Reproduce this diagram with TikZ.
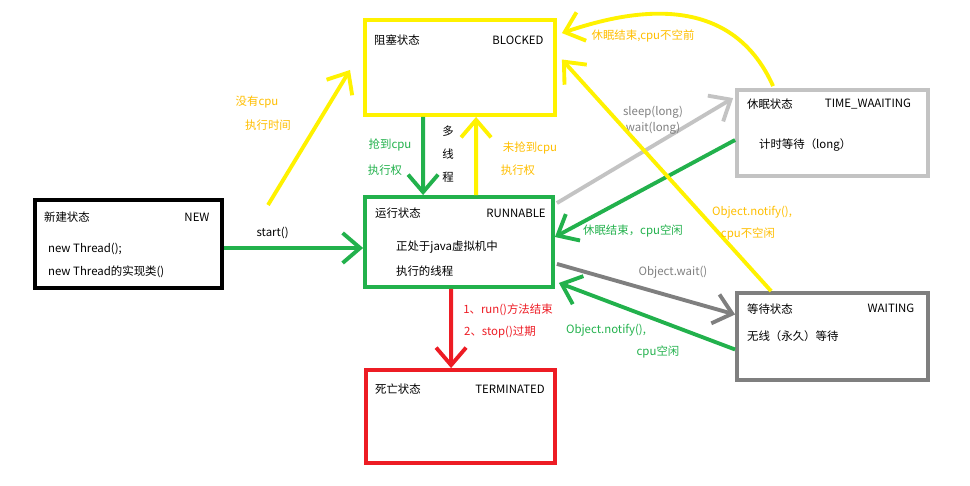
\documentclass[tikz,border=0pt]{standalone}
\usepackage{fontspec}
\setmainfont{Noto Sans CJK SC}
\usetikzlibrary{calc,arrows.meta}
\definecolor{ylw}{RGB}{255,242,0}
\definecolor{grn}{RGB}{34,177,76}
\definecolor{rd}{RGB}{237,28,36}
\definecolor{gry}{RGB}{127,127,127}
\definecolor{lgry}{RGB}{195,195,195}
\definecolor{orng}{RGB}{255,190,0}
\tikzset{
  state/.style={draw, line width=2.2pt, minimum width=#1, inner sep=0pt},
  flow/.style={line width=2.2pt, -{Straight Barb[length=3.5mm,width=6mm]}},
  lbl/.style={font=\fontsize{6.5}{8}\selectfont, inner sep=1pt}
}
\begin{document}
\begin{tikzpicture}[x=0.02cm,y=-0.02cm]
    \useasboundingbox (0,0) rectangle (970,486);
    \node[state=3.8cm, draw=ylw, minimum height=1.9cm] (blk) at (460,67.5) {};
    \node[state=3.74cm, draw=black, minimum height=1.76cm] (new) at (128.5,244) {};
    \node[state=3.76cm, draw=grn, minimum height=1.8cm] (run) at (459,242) {};
    \node[state=3.78cm, draw=rd, minimum height=1.86cm] (term) at (460.5,416.5) {};
    \node[state=3.82cm, draw=lgry, minimum height=1.72cm] (tw) at (832.5,133) {};
    \node[state=3.82cm, draw=gry, minimum height=1.74cm] (wt) at (832.5,336.5) {};
    %
    \node[lbl, anchor=west] at (372,40) {阻塞状态};
    \node[lbl] at (518,40) {BLOCKED};
    \node[lbl, anchor=west] at (42,217) {新建状态};
    \node[lbl] at (197,217) {NEW};
    \node[lbl, anchor=west] at (46,249) {new Thread();};
    \node[lbl, anchor=west] at (46,272) {new Thread的实现类()};
    \node[lbl, anchor=west] at (373,213) {运行状态};
    \node[lbl] at (516,213) {RUNNABLE};
    \node[lbl, anchor=west] at (394,247) {正处于java虚拟机中};
    \node[lbl, anchor=west] at (394,271) {执行的线程};
    \node[lbl, anchor=west] at (373,389) {死亡状态};
    \node[lbl] at (510,389) {TERMINATED};
    \node[lbl, anchor=west] at (745,104) {休眠状态};
    \node[lbl] at (868,104) {TIME\_WAAITING};
    \node[lbl, anchor=west] at (757,145) {计时等待（long）};
    \node[lbl, anchor=west] at (745,309) {等待状态};
    \node[lbl] at (891,308) {WAITING};
    \node[lbl, anchor=west] at (745,336) {无线（永久）等待};
    %
    \draw[flow, grn] (new.east |- 0,248) -- (run.west |- 0,248) node[lbl, black, pos=0.35, above=3pt] {start()};
    %
    \draw[flow, ylw] (268,205) -- (350,70);
    \node[lbl, orng] at (257,102) {没有cpu};
    \node[lbl, orng] at (268,125) {执行时间};
    %
    \draw[flow, grn] ($(blk.south west)+(60,0)$) -- ($(run.north west)+(60,0)$);
    \node[lbl, grn] at (390,145) {抢到cpu};
    \node[lbl, grn] at (385,170) {执行权};
    \node[lbl] at (448,131) {多};
    \node[lbl] at (448,154) {线};
    \node[lbl] at (448,177) {程};
    %
    \draw[flow, ylw] ($(run.north west)+(113,0)$) -- ($(blk.south west)+(113,0)$);
    \node[lbl, orng] at (530,148) {未抢到cpu};
    \node[lbl, orng] at (518,170) {执行权};
    %
    \draw[flow, rd] ($(run.south west)+(88,0)$) -- ($(term.north west)+(87,0)$);
    \node[lbl, rd] at (508,310) {1、run()方法结束};
    \node[lbl, rd] at (500,332) {2、stop()过期};
    %
    \draw[flow, lgry] ($(run.north east)+(2,8)$) -- ($(tw.north west)+(-2,10)$);
    \node[lbl, gry] at (653,112) {sleep(long)};
    \node[lbl, gry] at (653,128) {wait(long)};
    %
    \draw[flow, grn] ($(tw.west)+(0,7)$) -- ($(run.east)+(0,-5)$);
    \node[lbl, grn] at (633,231) {休眠结束，cpu空闲};
    %
    \draw[flow, ylw] ($(tw.north west)+(38,-2)$) .. controls (730,-10) and (630,10) .. ($(blk.north east)+(5,15)$);
    \node[lbl, orng] at (643,36) {休眠结束,cpu不空前};
    %
    \draw[flow, ylw] ($(wt.north west)+(36,0)$) -- ($(blk.east)+(5,-8)$);
    \node[lbl, orng] at (752,212) {Object.notify(),};
    \node[lbl, orng] at (748,234) {cpu不空闲};
    %
    \draw[flow, gry] ($(run.south east)+(2,-25)$) -- ($(wt.west)+(0,-22)$);
    \node[lbl, gry] at (673,272) {Object.wait()};
    %
    \draw[flow, grn] ($(wt.west)+(0,13)$) -- ($(run.south east)+(4,-6)$);
    \node[lbl, grn] at (606,330) {Object.notify(),};
    \node[lbl, grn] at (658,352) {cpu空闲};
\end{tikzpicture}
\end{document}
